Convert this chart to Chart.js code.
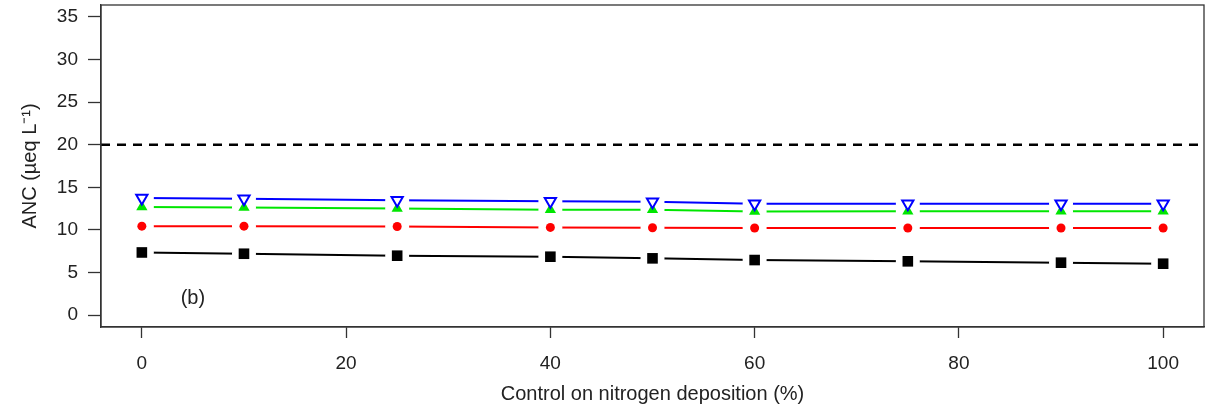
<!DOCTYPE html>
<html>
<head>
<meta charset="utf-8">
<script src="https://cdn.jsdelivr.net/npm/chart.js@4/dist/chart.umd.min.js"></script>
<style>
  body { margin: 0; background: #fff; }
  #wrap { width: 1205px; height: 419px; }
</style>
</head>
<body>
<div id="wrap"><canvas id="chart" width="1205" height="419"></canvas></div>
<script>
// control on N deposition (%)
const controlLevels = [0, 10, 25, 40, 50, 60, 75, 90, 100];
const ancBlack = [7.35, 7.2, 6.97, 6.85, 6.66, 6.46, 6.31, 6.15, 6.03];
const ancRed   = [10.44, 10.44, 10.4, 10.29, 10.25, 10.22, 10.22, 10.22, 10.22];
const ancGreen = [12.68, 12.62, 12.5, 12.37, 12.35, 12.16, 12.18, 12.18, 12.2];
const ancBlue  = [13.74, 13.67, 13.47, 13.35, 13.3, 13.08, 13.08, 13.06, 13.08];
const threshold = 20;
const xTicks = [0, 20, 40, 60, 80, 100];
const yTicks = [0, 5, 10, 15, 20, 25, 30, 35];
const panelLabel = '(b)';

const axisColor = '#333';
const textColor = '#222';
const font = 'Liberation Sans, Arial, sans-serif';

function toPoints(values) {
    return controlLevels.map((x, i) => ({ x: x, y: values[i] }));
}

const noPadding = () => ({ left: 0, top: 0, right: 0, bottom: 0 });

// R type="b": lines stop short of the symbols
const gapLines = {
    id: 'gapLines',
    beforeDatasetDraw(chart, args) {
        const ds = chart.data.datasets[args.index];
        if (!ds.gap) return;
        const ctx = chart.ctx;
        const area = chart.chartArea;
        const xs = chart.scales.x, ys = chart.scales.y;
        ctx.save();
        ctx.beginPath();
        ctx.rect(area.left, area.top, area.right - area.left, area.bottom - area.top);
        ds.data.forEach((p) => {
            const px = xs.getPixelForValue(p.x);
            const py = ys.getPixelForValue(p.y);
            ctx.moveTo(px + ds.gap, py);
            ctx.arc(px, py, ds.gap, 0, Math.PI * 2);
        });
        ctx.clip('evenodd');
    },
    afterDatasetDraw(chart, args) {
        const ds = chart.data.datasets[args.index];
        if (ds.gap) chart.ctx.restore();
    }
};

const frameAndLabel = {
    id: 'frameAndLabel',
    afterDraw(chart) {
        const ctx = chart.ctx;
        const a = chart.chartArea;
        ctx.save();
        ctx.strokeStyle = axisColor;
        ctx.lineWidth = 1.3;
        ctx.strokeRect(a.left, a.top, a.right - a.left, a.bottom - a.top);
        ctx.fillStyle = textColor;
        ctx.font = '20px ' + font;
        ctx.textAlign = 'center';
        ctx.textBaseline = 'middle';
        ctx.fillText(panelLabel, chart.scales.x.getPixelForValue(5), chart.scales.y.getPixelForValue(1.9));
        ctx.restore();
    }
};

function lineSet(values, color) {
    return {
        data: toPoints(values),
        borderColor: color,
        borderWidth: 2,
        pointRadius: 0,
        gap: 12,
        order: 5
    };
}

const datasets = [
    {
        data: toPoints(ancBlue), showLine: false,
        pointStyle: 'triangle', pointRotation: 180, pointRadius: 6.5,
        pointBackgroundColor: '#fff', pointBorderColor: '#0000ff', pointBorderWidth: 2,
        order: 1
    },
    {
        data: toPoints(ancGreen), showLine: false,
        pointStyle: 'triangle', pointRadius: 6.5,
        pointBackgroundColor: '#00e600', pointBorderColor: '#00e600', pointBorderWidth: 0,
        order: 2
    },
    {
        data: toPoints(ancRed), showLine: false,
        pointStyle: 'circle', pointRadius: 4.5,
        pointBackgroundColor: '#ff0000', pointBorderColor: '#ff0000', pointBorderWidth: 0,
        order: 3
    },
    {
        data: toPoints(ancBlack), showLine: false,
        pointStyle: 'rect', pointRadius: 7.5,
        pointBackgroundColor: '#000', pointBorderColor: '#000', pointBorderWidth: 0,
        order: 4
    },
    lineSet(ancBlue, '#0000ff'),
    lineSet(ancGreen, '#00e600'),
    lineSet(ancRed, '#ff0000'),
    lineSet(ancBlack, '#000'),
    {
        data: [{ x: -4, y: threshold }, { x: 104, y: threshold }],
        borderColor: '#000',
        borderWidth: 2.5,
        borderDash: [9, 7],
        pointRadius: 0,
        order: 6
    }
];

const myChart = new Chart(document.getElementById('chart'), {
    type: 'line',
    data: { datasets: datasets },
    plugins: [gapLines, frameAndLabel],
    options: {
        responsive: false,
        animation: false,
        layout: { autoPadding: false, padding: { top: 5, right: 1, left: 0, bottom: 0 } },
        plugins: { legend: { display: false }, tooltip: { enabled: false } },
        scales: {
            x: {
                type: 'linear',
                min: -4,
                max: 104,
                afterBuildTicks: (scale) => { scale.ticks = xTicks.map((v) => ({ value: v })); },
                afterFit: (scale) => {
                    scale.height = 92;
                    scale.getPadding = noPadding;
                },
                grid: { drawOnChartArea: false, drawTicks: true, tickLength: 11, tickColor: axisColor, tickWidth: 1.3 },
                border: { display: true, color: axisColor, width: 1.3 },
                ticks: { color: textColor, font: { family: font, size: 19 }, padding: 14, maxRotation: 0 },
                title: {
                    display: true,
                    text: 'Control on nitrogen deposition (%)',
                    color: textColor,
                    font: { family: font, size: 20 },
                    padding: { top: 0, bottom: 13 }
                }
            },
            y: {
                type: 'linear',
                min: -1.4,
                max: 36.4,
                afterBuildTicks: (scale) => { scale.ticks = yTicks.map((v) => ({ value: v })); },
                afterFit: (scale) => {
                    scale.width = 101;
                    scale.getPadding = noPadding;
                },
                grid: { drawOnChartArea: false, drawTicks: true, tickLength: 13, tickColor: axisColor, tickWidth: 1.3 },
                border: { display: true, color: axisColor, width: 1.3 },
                ticks: { color: textColor, font: { family: font, size: 19 }, padding: 10 },
                title: {
                    display: true,
                    text: 'ANC (µeq L⁻¹)',
                    color: textColor,
                    font: { family: font, size: 20 },
                    padding: { top: 18, bottom: 0 }
                }
            }
        }
    }
});
</script>
</body>
</html>
